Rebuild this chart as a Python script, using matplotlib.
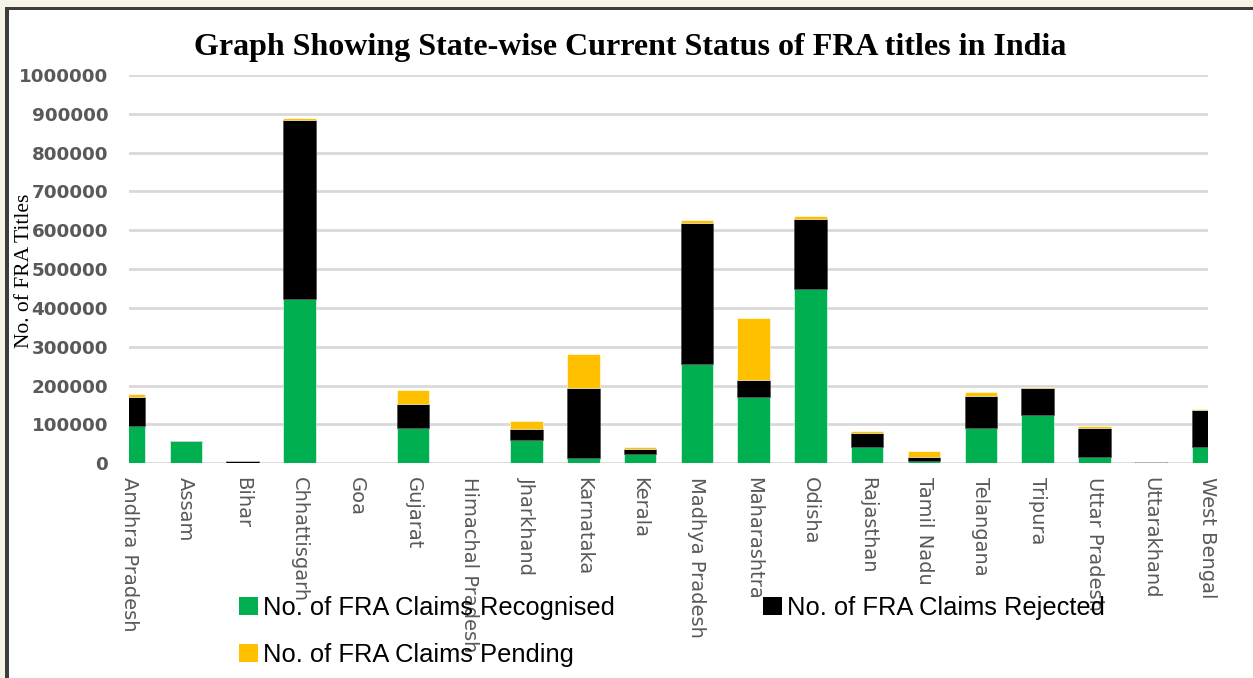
import matplotlib
matplotlib.use("Agg")
import matplotlib.pyplot as plt
from matplotlib.patches import Patch, Rectangle
import numpy as np

states = ["Andhra Pradesh", "Assam", "Bihar", "Chhattisgarh", "Goa", "Gujarat",
          "Himachal Pradesh", "Jharkhand", "Karnataka", "Kerala", "Madhya Pradesh",
          "Maharashtra", "Odisha", "Rajasthan", "Tamil Nadu", "Telangana", "Tripura",
          "Uttar Pradesh", "Uttarakhand", "West Bengal"]
recognised = [95000, 57000, 150, 423000, 100, 92000, 100, 59000, 13000, 23000,
              257000, 171000, 448000, 42000, 6000, 92000, 124500, 17000, 150, 42000]
rejected = [76000, 0, 5000, 461000, 0, 62000, 0, 29000, 182000, 13000,
            362000, 43000, 182000, 37000, 10000, 82000, 70500, 75000, 3500, 95000]
pending = [7000, 0, 0, 5000, 0, 34000, 0, 21000, 86000, 6000,
           8000, 159000, 6000, 3500, 16500, 10500, 2500, 3000, 0, 4000]
series_labels = ["No. of FRA Claims Recognised", "No. of FRA Claims Rejected",
                 "No. of FRA Claims Pending"]
yticks = [0, 100000, 200000, 300000, 400000, 500000, 600000, 700000, 800000,
          900000, 1000000]
title = "Graph Showing State-wise Current Status of FRA titles in India"
ylabel = "No. of FRA Titles"

W, H = 1253, 678
fig = plt.figure(figsize=(W / 100, H / 100), dpi=100)
fig.patch.set_facecolor("#f6f3e7")
# outer frame: dark border top/left, white panel
fig.patches.append(Rectangle((5 / W, 0), 1, 1 - 7 / H, transform=fig.transFigure,
                             facecolor="#3d3d3d", edgecolor="none", zorder=-20))
fig.patches.append(Rectangle((9 / W, 0), 1, 1 - 10 / H, transform=fig.transFigure,
                             facecolor="white", edgecolor="none", zorder=-10))

ax = fig.add_axes([129 / W, 1 - 463.3 / H, (1208 - 129) / W, (463.3 - 75) / H])
ax.set_facecolor("none")

x = np.arange(len(states))
rec = np.array(recognised)
rej = np.array(rejected)
pen = np.array(pending)
green, black, yellow = "#00b050", "#000000", "#ffc000"
w = 0.57
ax.bar(x, rec, w, color=green, edgecolor="white", linewidth=0.4, zorder=3)
ax.bar(x, rej, w, bottom=rec, color=black, edgecolor="#444444", linewidth=0.4, zorder=3)
ax.bar(x, pen, w, bottom=rec + rej, color=yellow, edgecolor="white", linewidth=0.4, zorder=3)

ax.set_xlim(0, 19)
ax.set_ylim(0, 1000000)
ax.set_yticks(yticks)
ax.set_yticklabels([str(v) for v in yticks])
ax.yaxis.grid(True, color="#d9d9d9", linewidth=2.0, zorder=0)
ax.set_axisbelow(True)
for s in ax.spines.values():
    s.set_visible(False)
ax.tick_params(axis="both", length=0)
ax.tick_params(axis="y", pad=15, labelsize=13.2, labelcolor="#595959")
for t in ax.get_yticklabels():
    t.set_fontweight("bold")
    t.set_family("DejaVu Sans")
ax.set_xticks(x)
ax.set_xticklabels(states, rotation=-90, ha="center", va="top",
                   fontsize=14, color="#595959", family="DejaVu Sans")
ax.tick_params(axis="x", pad=10)

fig.text(630 / W, 1 - 47 / H, title, ha="center", va="center",
         fontsize=23, fontweight="bold", family="Liberation Serif", color="black")
fig.text(25 / W, 1 - 271 / H, ylabel, ha="center", va="center", rotation=90,
         fontsize=15.5, family="Liberation Serif", color="black")

handles = [Patch(facecolor=green, edgecolor="none"),
           Patch(facecolor=yellow, edgecolor="none"),
           Patch(facecolor=black, edgecolor="none")]
labels = [series_labels[0], series_labels[2], series_labels[1]]
leg = fig.legend(handles, labels, ncol=2, loc="upper left",
                 bbox_to_anchor=(239 / W, 1 - 596 / H), frameon=False,
                 prop={"family": "Liberation Sans", "size": 18.4},
                 handlelength=0.75, handleheight=0.75, handletextpad=0.2,
                 columnspacing=5.78, labelspacing=0.9, borderpad=0, borderaxespad=0)
leg.set_zorder(10)

fig.savefig("out.png", dpi=100, facecolor=fig.get_facecolor())
